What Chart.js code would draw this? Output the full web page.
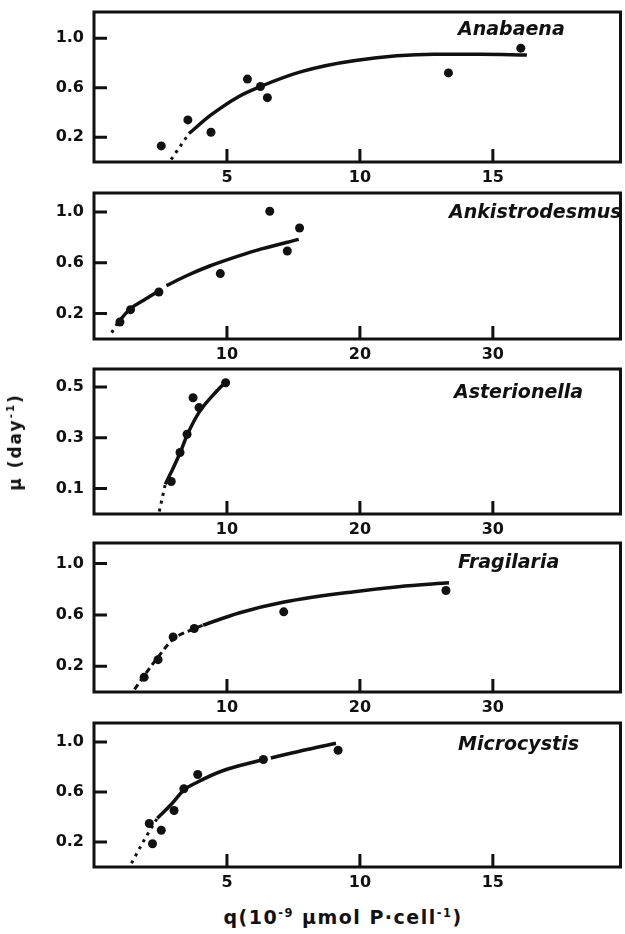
<!DOCTYPE html>
<html>
<head>
<meta charset="utf-8">
<script src="https://cdn.jsdelivr.net/npm/chart.js@4.4.1/dist/chart.umd.min.js"></script>
<style>
  body { margin: 0; background: #fff; width: 625px; height: 934px; overflow: hidden; position: relative; }
  canvas { position: absolute; left: 0; }
  .axis-title { position: absolute; font-family: "DejaVu Sans", sans-serif; font-weight: bold; color: #111; white-space: nowrap; transform-origin: center; }
  .axis-title sup { font-size: 0.6em; }
</style>
</head>
<body>
<canvas id="anabaena"></canvas>
<canvas id="ankistrodesmus"></canvas>
<canvas id="asterionella"></canvas>
<canvas id="fragilaria"></canvas>
<canvas id="microcystis"></canvas>
<div class="axis-title" id="ytitle" style="left:15px; top:442px; font-size:17px; letter-spacing:2px; transform:translate(-50%,-50%) rotate(-90deg);">µ (day<sup>-1</sup>)</div>
<div class="axis-title" id="xtitle" style="left:343px; top:917px; font-size:19px; letter-spacing:1.5px; transform:translate(-50%,-50%);">q(10<sup>-9</sup> µmol P·cell<sup>-1</sup>)</div>
<script>
// cell quota q (10^-9 umol P per cell) vs growth rate mu (per day)
const anabaenaQ  = [2.53, 3.53, 4.40, 5.77, 6.26, 6.52, 13.33, 16.05];
const anabaenaMu = [0.13, 0.34, 0.24, 0.67, 0.61, 0.52, 0.72, 0.92];
const anabaenaTailQ  = [2.90, 3.57];
const anabaenaTailMu = [0.02, 0.23];
const anabaenaFitQ  = [3.57, 4.40, 5.45, 6.26, 7.80, 9.83, 12.8, 14.5, 16.28];
const anabaenaFitMu = [0.23, 0.38, 0.53, 0.61, 0.73, 0.82, 0.87, 0.87, 0.865];

const ankistroQ  = [1.95, 2.75, 4.88, 9.50, 13.22, 14.54, 15.46];
const ankistroMu = [0.134, 0.231, 0.370, 0.515, 1.006, 0.693, 0.874];
const ankistroTailQ  = [1.33, 1.80];
const ankistroTailMu = [0.05, 0.13];
const ankistroFitQ  = [1.80, 2.75, 3.80, 4.90, 5.20, 5.45, 7.00, 8.70, 10.9, 12.6, 15.4];
const ankistroFitMu = [0.13, 0.24, 0.31, 0.38, null, 0.42, 0.50, 0.575, 0.655, 0.71, 0.785];

const asterionellaQ  = [5.81, 6.47, 7.00, 7.45, 7.90, 9.90];
const asterionellaMu = [0.128, 0.242, 0.314, 0.458, 0.419, 0.517];
const asterionellaTailQ  = [4.91, 5.36];
const asterionellaTailMu = [0.01, 0.117];
const asterionellaFitQ  = [5.36, 5.81, 6.47, 7.00, 7.90, 8.90, 9.90];
const asterionellaFitMu = [0.117, 0.165, 0.24, 0.31, 0.40, 0.465, 0.52];

const fragilariaQ  = [3.77, 4.82, 5.95, 7.54, 14.27, 26.47];
const fragilariaMu = [0.114, 0.252, 0.429, 0.494, 0.624, 0.79];
const fragilariaTailQ  = [3.05, 3.80, 4.80, 5.95, 7.50, 8.20];
const fragilariaTailMu = [0.02, 0.13, 0.27, 0.41, 0.49, 0.52];
const fragilariaFitQ  = [8.20, 10.9, 14.3, 19.9, 22.9, 26.7];
const fragilariaFitMu = [0.52, 0.615, 0.70, 0.785, 0.82, 0.85];

const microcystisQ  = [2.08, 2.20, 2.53, 3.01, 3.38, 3.90, 6.37, 9.18];
const microcystisMu = [0.348, 0.186, 0.294, 0.452, 0.626, 0.74, 0.86, 0.934];
const microcystisTailQ  = [1.41, 1.90, 2.38];
const microcystisTailMu = [0.03, 0.22, 0.39];
const microcystisFitQ  = [2.38, 2.90, 3.38, 3.90, 4.84, 6.37, 6.50, 6.65, 7.80, 9.10];
const microcystisFitMu = [0.39, 0.50, 0.615, 0.68, 0.77, 0.86, null, 0.872, 0.93, 0.99];

const ticksMuWide = [0.2, 0.6, 1.0];
const ticksMuNarrow = [0.1, 0.3, 0.5];
const ticksQFine = [5, 10, 15];
const ticksQCoarse = [10, 20, 30];

const INK = '#111';
const tickFont = { family: '"DejaVu Sans", sans-serif', weight: 'bold', size: 16 };

function zip(xs, ys) {
  return xs.map((x, i) => ({ x: x, y: ys[i] }));
}

// box outline, inward tick marks and the species name
const framePlugin = {
  id: 'frame',
  afterDraw(chart, args, opts) {
    const { ctx, chartArea: a, scales } = chart;
    ctx.save();
    ctx.strokeStyle = INK;
    ctx.lineWidth = 3;
    ctx.strokeRect(a.left, a.top, a.right - a.left, a.bottom - a.top);
    ctx.beginPath();
    scales.x.ticks.forEach(t => {
      const px = scales.x.getPixelForValue(t.value);
      ctx.moveTo(px, a.bottom);
      ctx.lineTo(px, a.bottom - 13);
    });
    scales.y.ticks.forEach(t => {
      const py = scales.y.getPixelForValue(t.value);
      ctx.moveTo(a.left, py);
      ctx.lineTo(a.left + 13, py);
    });
    ctx.stroke();
    ctx.fillStyle = INK;
    ctx.font = 'italic bold 19px "DejaVu Sans", sans-serif';
    ctx.textBaseline = 'middle';
    ctx.fillText(opts.name, opts.nameX, a.top + opts.nameDy);
    ctx.restore();
  }
};

function makePanel(p) {
  const canvas = document.getElementById(p.id);
  const padTop = 6, axisH = 30;
  canvas.width = 625;
  canvas.height = padTop + (p.bottom - p.top) + axisH;
  canvas.style.top = (p.top - padTop) + 'px';

  new Chart(canvas, {
    type: 'scatter',
    data: {
      datasets: [
        { data: zip(p.q, p.mu), pointRadius: 4.5, pointBackgroundColor: INK, pointBorderWidth: 0, showLine: false },
        { data: zip(p.tailQ, p.tailMu), showLine: true, pointRadius: 0, borderColor: INK, borderWidth: 3,
          borderDash: p.tailDash, cubicInterpolationMode: 'monotone' },
        { data: zip(p.fitQ, p.fitMu), showLine: true, pointRadius: 0, borderColor: INK, borderWidth: 3.5,
          cubicInterpolationMode: 'monotone', spanGaps: false }
      ]
    },
    options: {
      responsive: false,
      animation: false,
      events: [],
      layout: { padding: { top: padTop, right: 3, left: 0, bottom: 0 } },
      plugins: {
        legend: { display: false },
        tooltip: { enabled: false },
        frame: { name: p.name, nameX: p.nameX, nameDy: p.nameDy }
      },
      scales: {
        x: {
          type: 'linear', min: 0, max: p.xMax,
          grid: { display: false, drawTicks: false },
          border: { display: false },
          afterBuildTicks: s => { s.ticks = p.xTicks.map(v => ({ value: v })); },
          afterFit: s => { s.height = axisH; s.paddingLeft = 0; s.paddingRight = 0; },
          ticks: { color: INK, font: tickFont, padding: 6, maxRotation: 0, callback: v => String(v) }
        },
        y: {
          type: 'linear', min: 0, max: p.yMax,
          grid: { display: false, drawTicks: false },
          border: { display: false },
          afterBuildTicks: s => { s.ticks = p.yTicks.map(v => ({ value: v })); },
          afterFit: s => { s.width = 94; s.paddingTop = 0; s.paddingBottom = 0; },
          ticks: { color: INK, font: tickFont, padding: 10, callback: v => v.toFixed(1) }
        }
      }
    },
    plugins: [framePlugin]
  });
}

makePanel({ id: 'anabaena', name: 'Anabaena', nameX: 458, nameDy: 18,
  top: 12, bottom: 162, yMax: 1.212, xMax: 19.8, yTicks: ticksMuWide, xTicks: ticksQFine,
  q: anabaenaQ, mu: anabaenaMu, tailQ: anabaenaTailQ, tailMu: anabaenaTailMu, tailDash: [3, 5],
  fitQ: anabaenaFitQ, fitMu: anabaenaFitMu });

makePanel({ id: 'ankistrodesmus', name: 'Ankistrodesmus', nameX: 449, nameDy: 20,
  top: 193, bottom: 339, yMax: 1.15, xMax: 39.6, yTicks: ticksMuWide, xTicks: ticksQCoarse,
  q: ankistroQ, mu: ankistroMu, tailQ: ankistroTailQ, tailMu: ankistroTailMu, tailDash: [3, 5],
  fitQ: ankistroFitQ, fitMu: ankistroFitMu });

makePanel({ id: 'asterionella', name: 'Asterionella', nameX: 454, nameDy: 24,
  top: 369, bottom: 514, yMax: 0.571, xMax: 39.6, yTicks: ticksMuNarrow, xTicks: ticksQCoarse,
  q: asterionellaQ, mu: asterionellaMu, tailQ: asterionellaTailQ, tailMu: asterionellaTailMu, tailDash: [3, 5],
  fitQ: asterionellaFitQ, fitMu: asterionellaFitMu });

makePanel({ id: 'fragilaria', name: 'Fragilaria', nameX: 458, nameDy: 20,
  top: 543, bottom: 692, yMax: 1.16, xMax: 39.6, yTicks: ticksMuWide, xTicks: ticksQCoarse,
  q: fragilariaQ, mu: fragilariaMu, tailQ: fragilariaTailQ, tailMu: fragilariaTailMu, tailDash: [6, 4],
  fitQ: fragilariaFitQ, fitMu: fragilariaFitMu });

makePanel({ id: 'microcystis', name: 'Microcystis', nameX: 458, nameDy: 22,
  top: 723, bottom: 867, yMax: 1.152, xMax: 19.8, yTicks: ticksMuWide, xTicks: ticksQFine,
  q: microcystisQ, mu: microcystisMu, tailQ: microcystisTailQ, tailMu: microcystisTailMu, tailDash: [3, 5],
  fitQ: microcystisFitQ, fitMu: microcystisFitMu });
</script>
</body>
</html>
